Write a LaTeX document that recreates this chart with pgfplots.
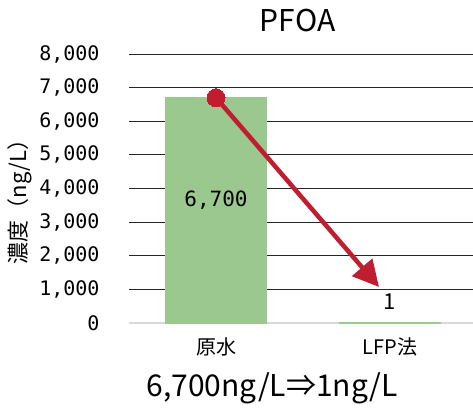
\documentclass[border=0pt]{standalone}
\usepackage{pgfplots}
\pgfplotsset{compat=1.18}
\usetikzlibrary{arrows.meta}
\usepackage{fontspec}
\setmainfont{Noto Sans CJK JP}
\setmonofont{DejaVu Sans Mono}
\definecolor{barGreen}{RGB}{155,200,142}
\definecolor{arrowRed}{RGB}{192,30,48}

\begin{document}
\begin{tikzpicture}
\useasboundingbox (-129pt,-84pt) rectangle (344pt,323pt);
\begin{axis}[
  scale only axis, width=344pt, height=269pt,
  xmin=-0.5, xmax=1.477, ymin=0, ymax=8000,
  clip=false,
  axis line style={draw=none},
  xtick={0,1}, xticklabels={原水,LFP法},
  ytick={1000,2000,...,8000},
  extra y ticks={0},
  extra y tick style={major grid style={black!15,line width=1.6pt}},
  ymajorgrids, major grid style={black!85,line width=1pt},
  major tick length=0pt,
  scaled y ticks=false,
  /pgf/number format/.cd, 1000 sep={,}, assume math mode=true,
  /pgfplots/.cd,
  yticklabel style={font=\fontsize{20}{20}\ttfamily, anchor=east, xshift=-26pt},
  xticklabel style={font=\fontsize{20}{20}\selectfont, anchor=center, yshift=-24pt},
  title={PFOA},
  title style={at={(axis description cs:0.49,1)}, anchor=base, yshift=17pt,
    font=\fontsize{30}{30}\selectfont},
  xlabel={6,700ng/L⇒1ng/L},
  xlabel style={at={(axis description cs:0.416,0)}, anchor=center, yshift=-65pt,
    font=\fontsize{30}{30}\selectfont},
  ylabel={濃度（ng/L）},
  ylabel style={at={(axis description cs:-0.317,0.47)}, anchor=center,
    font=\fontsize{22}{22}\selectfont},
]
% concentration bars: raw water vs. after treatment
\addplot[ybar, bar width=0.575, fill=barGreen, draw=barGreen, line width=1.2pt]
  coordinates {(0,6700) (1,1)};
% reduction arrow
\addplot[arrowRed, line width=4.5pt, -{Triangle[length=26pt,width=26pt]},
  mark=*, mark indices={1}, mark size=9pt,
  mark options={solid, fill=arrowRed, draw=arrowRed, line width=0pt}]
  coordinates {(0,6700) (0.937,1071)};
\node[font=\fontsize{21}{21}\ttfamily] at (axis cs:0,3650) {6,700};
\node[font=\fontsize{22}{22}\selectfont] at (axis cs:1,620) {1};
\end{axis}
\end{tikzpicture}
\end{document}
